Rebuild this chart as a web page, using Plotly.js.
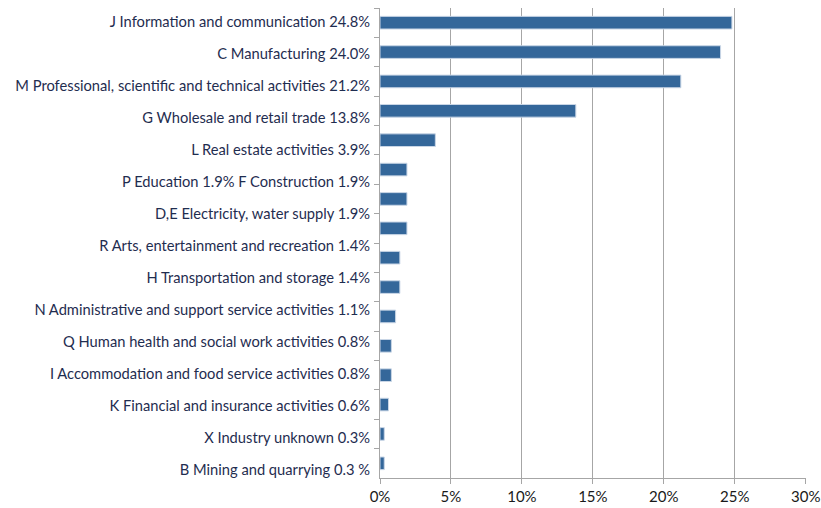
<!DOCTYPE html>
<html>
<head>
<meta charset="utf-8">
<script src="https://cdn.plot.ly/plotly-3.0.1.min.js"></script>
<style>html,body{margin:0;padding:0;background:#fff;}#chart{width:821px;height:508px;}</style>
</head>
<body>
<div id="chart"></div>
<script>
// Bars (top to bottom)
const barNames = ["J", "C", "M", "G", "L", "P", "F", "D,E", "R", "H", "N", "Q", "I", "K", "X", "B"];
const barValues = [24.8, 24.0, 21.2, 13.8, 3.9, 1.9, 1.9, 1.9, 1.4, 1.4, 1.1, 0.8, 0.8, 0.6, 0.3, 0.3];
// Category labels as printed (top to bottom)
const labelTexts = [
  "J Information and communication 24.8%",
  "C Manufacturing 24.0%",
  "M Professional, scientific and technical activities 21.2%",
  "G Wholesale and retail trade 13.8%",
  "L Real estate activities 3.9%",
  "P Education 1.9% F Construction 1.9%",
  "D,E Electricity, water supply 1.9%",
  "R Arts, entertainment and recreation 1.4%",
  "H Transportation and storage 1.4%",
  "N Administrative and support service activities 1.1%",
  "Q Human health and social work activities 0.8%",
  "I Accommodation and food service activities 0.8%",
  "K Financial and insurance activities 0.6%",
  "X Industry unknown 0.3%",
  "B Mining and quarrying 0.3 %"
];
const xTickVals = [0, 5, 10, 15, 20, 25, 30];
const xTickText = ["0%", "5%", "10%", "15%", "20%", "25%", "30%"];

const labelIdx = labelTexts.map((_, i) => i);

const data = [
  {
    type: "bar",
    orientation: "h",
    x: barValues,
    y: barNames,
    marker: { color: "#34679A", line: { color: "#C9D6E6", width: 1 } },
    hoverinfo: "x+y"
  },
  {
    type: "scatter",
    mode: "markers",
    x: labelIdx.map(() => 0),
    y: labelIdx,
    yaxis: "y2",
    marker: { opacity: 0 },
    hoverinfo: "skip",
    showlegend: false
  }
];

const n = labelTexts.length;
const layout = {
  width: 821,
  height: 508,
  margin: { l: 380, r: 15, t: 8, b: 30, pad: 0 },
  paper_bgcolor: "#ffffff",
  plot_bgcolor: "#ffffff",
  showlegend: false,
  bargap: 0.57,
  font: { family: "Lato, Liberation Sans, Arial, sans-serif", size: 14.7, color: "#1F2D50" },
  xaxis: {
    range: [0, 30.02],
    tickvals: xTickVals,
    ticktext: xTickText,
    showgrid: true,
    gridcolor: "#A6A6A6",
    gridwidth: 1,
    zeroline: false,
    showline: true,
    linecolor: "#A6A6A6",
    ticks: "outside",
    ticklen: 5,
    tickcolor: "#A6A6A6",
    ticklabeloverflow: "allow",
    tickfont: { size: 15, color: "#1a1a1a" },
    fixedrange: true
  },
  yaxis: {
    type: "category",
    categoryorder: "array",
    categoryarray: barNames,
    autorange: "reversed",
    tickson: "boundaries",
    ticks: "outside",
    ticklen: 5,
    tickcolor: "#A6A6A6",
    showticklabels: false,
    showline: true,
    linecolor: "#A6A6A6",
    showgrid: false,
    zeroline: false,
    fixedrange: true
  },
  yaxis2: {
    overlaying: "y",
    side: "left",
    anchor: "x",
    range: [n - 1 + 0.25, -0.4375],
    tickvals: labelIdx,
    ticktext: labelTexts,
    ticks: "",
    ticklabelstandoff: 9,
    showgrid: false,
    zeroline: false,
    showline: false,
    tickfont: { size: 14.7, color: "#1F2D50" },
    fixedrange: true
  }
};

Plotly.newPlot("chart", data, layout, { displayModeBar: false, staticPlot: true });
</script>
</body>
</html>
